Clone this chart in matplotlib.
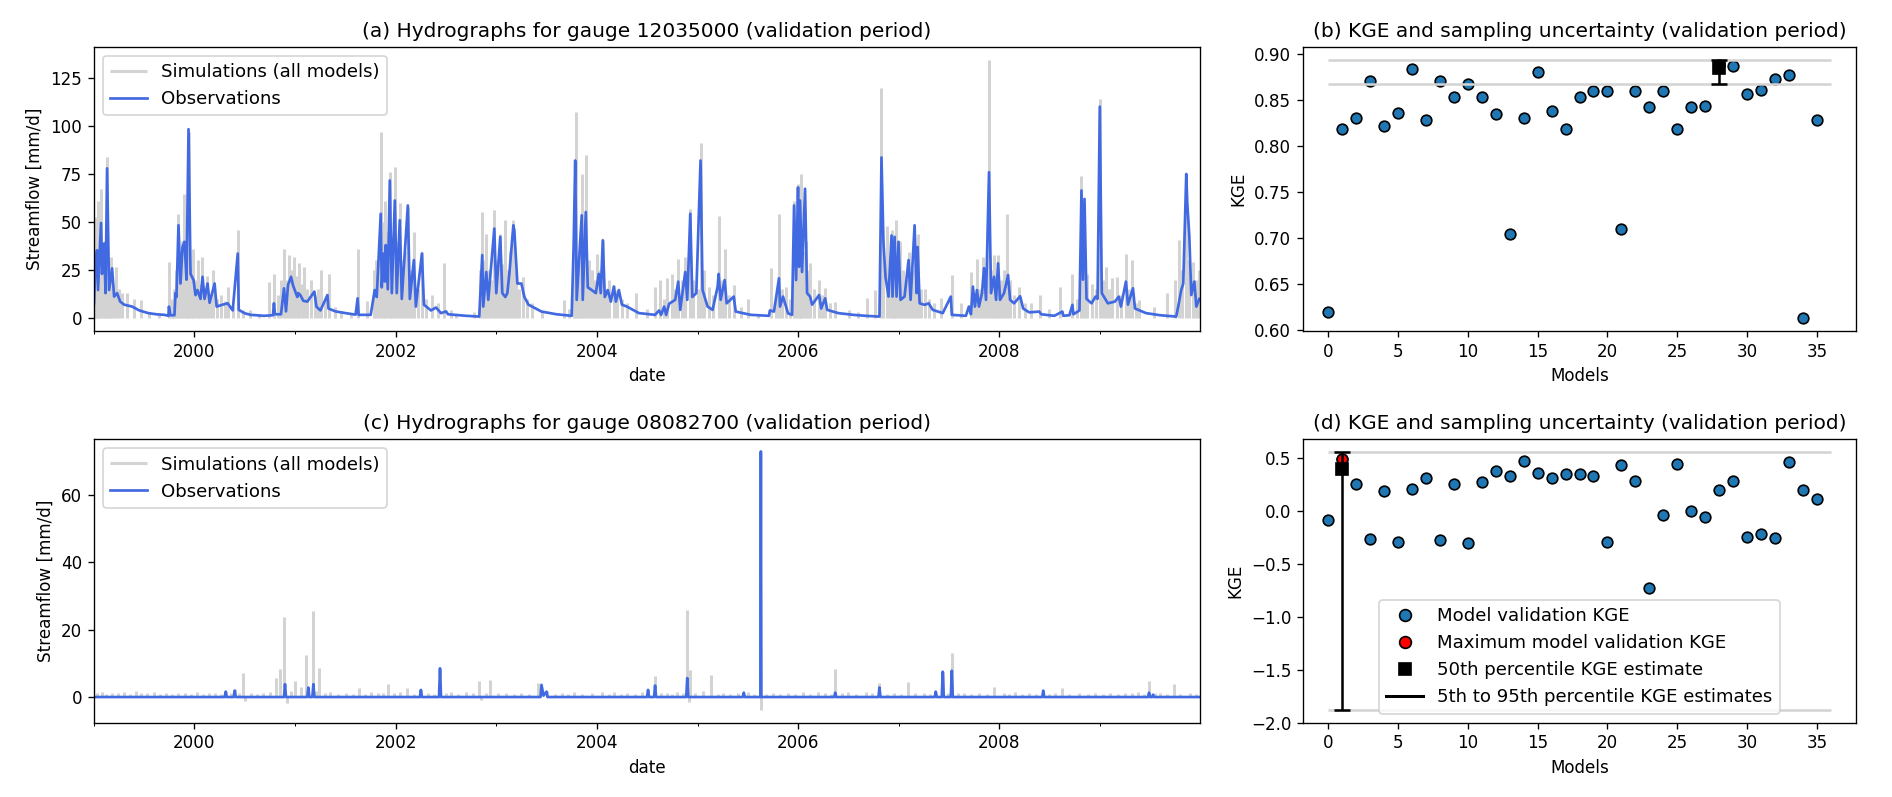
import numpy as np
import pandas as pd
import matplotlib
matplotlib.use("Agg")
import matplotlib.pyplot as plt
import matplotlib.dates as mdates
from matplotlib.lines import Line2D
from matplotlib.ticker import MultipleLocator

# ---------------- data ----------------
# gauge 12035000: observations, key points (decimal year, mm/d)
obs_a_t = [1999.00, 1999.01, 1999.03, 1999.04, 1999.07, 1999.08, 1999.10, 1999.115, 1999.13, 1999.15,
           1999.18, 1999.20, 1999.23, 1999.26, 1999.30, 1999.38, 1999.45, 1999.54, 1999.62, 1999.70,
           1999.74, 1999.745, 1999.76, 1999.80, 1999.81, 1999.82, 1999.84, 1999.86, 1999.88, 1999.90,
           1999.92, 1999.94, 1999.96, 1999.99, 2000.01, 2000.03, 2000.06, 2000.08, 2000.10, 2000.13,
           2000.15, 2000.20, 2000.22, 2000.28, 2000.33, 2000.38, 2000.43, 2000.44, 2000.50, 2000.56,
           2000.69, 2000.78, 2000.79, 2000.80, 2000.86, 2000.89, 2000.91, 2000.93, 2000.96, 2000.98,
           2001.00, 2001.02, 2001.03, 2001.05, 2001.08, 2001.12, 2001.19, 2001.21, 2001.25, 2001.32,
           2001.33, 2001.40, 2001.50, 2001.60, 2001.62, 2001.63, 2001.75, 2001.79, 2001.81, 2001.85,
           2001.86, 2001.88, 2001.89, 2001.90, 2001.92, 2001.94, 2001.96, 2001.99, 2002.01, 2002.04,
           2002.06, 2002.12, 2002.14, 2002.18, 2002.20, 2002.26, 2002.28, 2002.35, 2002.40, 2002.45,
           2002.50, 2002.52, 2002.70, 2002.83, 2002.86, 2002.87, 2002.90, 2002.92, 2002.98, 2003.00,
           2003.04, 2003.06, 2003.09, 2003.11, 2003.13, 2003.17, 2003.18, 2003.21, 2003.25, 2003.28,
           2003.32, 2003.45, 2003.60, 2003.75, 2003.77, 2003.785, 2003.80, 2003.85, 2003.86, 2003.89,
           2003.91, 2003.95, 2003.99, 2004.02, 2004.04, 2004.06, 2004.08, 2004.11, 2004.14, 2004.17,
           2004.19, 2004.22, 2004.25, 2004.30, 2004.42, 2004.58, 2004.62, 2004.64, 2004.67, 2004.69,
           2004.72, 2004.78, 2004.81, 2004.83, 2004.88, 2004.90, 2004.93, 2004.95, 2004.99, 2005.03,
           2005.05, 2005.10, 2005.15, 2005.20, 2005.21, 2005.23, 2005.27, 2005.29, 2005.36, 2005.38,
           2005.53, 2005.71, 2005.72, 2005.76, 2005.81, 2005.82, 2005.85, 2005.90, 2005.94, 2005.96,
           2005.98, 2006.00, 2006.01, 2006.02, 2006.04, 2006.07, 2006.09, 2006.12, 2006.14, 2006.21,
           2006.23, 2006.27, 2006.29, 2006.40, 2006.55, 2006.67, 2006.81, 2006.83, 2006.85, 2006.87,
           2006.90, 2006.93, 2006.94, 2006.96, 2006.98, 2007.00, 2007.02, 2007.06, 2007.10, 2007.12,
           2007.16, 2007.18, 2007.19, 2007.21, 2007.26, 2007.30, 2007.34, 2007.44, 2007.52, 2007.53,
           2007.67, 2007.70, 2007.72, 2007.74, 2007.76, 2007.78, 2007.80, 2007.83, 2007.85, 2007.87,
           2007.90, 2007.92, 2007.95, 2007.97, 2007.99, 2008.01, 2008.05, 2008.09, 2008.11, 2008.15,
           2008.21, 2008.24, 2008.30, 2008.40, 2008.42, 2008.55, 2008.63, 2008.64, 2008.70, 2008.73,
           2008.74, 2008.80, 2008.82, 2008.835, 2008.85, 2008.87, 2008.92, 2008.96, 2008.98, 2009.00,
           2009.02, 2009.08, 2009.15, 2009.19, 2009.21, 2009.26, 2009.28, 2009.33, 2009.35, 2009.46,
           2009.60, 2009.76, 2009.78, 2009.81, 2009.83, 2009.86, 2009.87, 2009.89, 2009.91, 2009.94,
           2009.96, 2009.99]
obs_a_q = [7.7, 21.5, 35.3, 14.6, 49.5, 23, 38.8, 13, 77.9, 14.6,
           25.9, 11.2, 13, 8.6, 7.0, 6.0, 4.0, 2.6, 2.0, 1.7,
           1.2, 6.0, 1.5, 1.5, 13, 11, 48.3, 18, 37, 39.7,
           20, 98.3, 23, 19.8, 12, 14.6, 10, 21.5, 10, 18,
           8, 18, 6, 7, 7.7, 4, 33.6, 4.3, 2.5, 1.7,
           1.2, 1.5, 7.7, 2, 2, 15.5, 3.5, 17.2, 21.5, 17,
           13.8, 11, 13, 12, 9, 8.6, 13.8, 6, 4, 12,
           5, 3.5, 2.6, 1.8, 10.3, 1.7, 1.7, 14.6, 11, 54.3,
           16, 33.6, 19, 38, 15, 71.6, 13, 61.2, 13, 50.9,
           10, 58.6, 10, 30.2, 6, 33.6, 7, 4, 5.5, 2.6,
           3.5, 2.0, 1.2, 0.8, 32.8, 6, 24, 9.5, 46.6, 13,
           42.3, 13, 11, 13, 23, 48.3, 45.7, 18, 18, 11,
           7, 3.4, 2, 1.2, 38.8, 82, 9.5, 53.5, 9.5, 55.2,
           16, 14.6, 13, 23, 13, 40.5, 11, 14.6, 8.6, 16.4,
           8.6, 14.6, 7, 6, 2.6, 1.7, 4, 1.7, 6, 1.7,
           7.5, 9.5, 19, 4.3, 24, 9.5, 54.3, 11, 13, 82,
           14.6, 6, 4.3, 16.4, 23, 9.5, 19.8, 7.7, 11.2, 3.4,
           1.7, 1.2, 4, 3.4, 20.7, 6, 11.2, 2.5, 1.7, 58.6,
           19.8, 68, 26.7, 61.2, 24, 67.3, 13, 11.2, 7, 12,
           5, 10.3, 4.3, 2.6, 1.7, 1.2, 0.8, 83.6, 38.8, 21.5,
           11.2, 43, 11.2, 42.3, 11.2, 39.7, 9.5, 11.2, 30.2, 9.5,
           48.3, 13, 37, 7.7, 6.9, 7.7, 4.3, 2.6, 11.2, 1.7,
           1.2, 6, 2, 16.4, 6, 14.6, 6, 13, 26, 9.5,
           75.9, 13, 21.5, 9.5, 28.5, 9.5, 13, 22.4, 9.5, 7.7,
           11.4, 5, 3, 3.4, 2, 1.2, 3.4, 1.2, 1.5, 6.9,
           2, 4, 66.4, 20, 62, 10, 7.7, 11.2, 10, 110,
           13, 7.7, 8.6, 11.2, 6, 19, 7, 15.5, 5, 2.6,
           1.5, 0.8, 6, 14.6, 18, 75, 60, 43, 12, 19,
           6, 10]

# gauge 12035000: simulated flow peaks of the model ensemble (decimal year, mm/d)
sim_a_t = [1999.005, 1999.02, 1999.035, 1999.05, 1999.07, 1999.09, 1999.105, 1999.125, 1999.14, 1999.155,
           1999.17, 1999.20, 1999.22, 1999.25, 1999.28, 1999.33, 1999.40, 1999.47, 1999.55, 1999.65,
           1999.745, 1999.78, 1999.80, 1999.82, 1999.84, 1999.86, 1999.875, 1999.89, 1999.91, 1999.925,
           1999.94, 1999.96, 1999.985, 2000.01, 2000.03, 2000.05, 2000.07, 2000.10, 2000.12, 2000.15,
           2000.18, 2000.22, 2000.26, 2000.30, 2000.33, 2000.38, 2000.43, 2000.48, 2000.55, 2000.64,
           2000.74, 2000.79, 2000.83, 2000.86, 2000.89, 2000.92, 2000.94, 2000.965, 2000.99, 2001.02,
           2001.04, 2001.07, 2001.09, 2001.12, 2001.16, 2001.20, 2001.23, 2001.26, 2001.30, 2001.34,
           2001.40, 2001.45, 2001.55, 2001.62, 2001.71, 2001.78, 2001.80, 2001.83, 2001.85, 2001.87,
           2001.89, 2001.91, 2001.94, 2001.96, 2001.99, 2002.02, 2002.04, 2002.06, 2002.09, 2002.12,
           2002.15, 2002.18, 2002.22, 2002.26, 2002.30, 2002.36, 2002.42, 2002.48, 2002.55, 2002.60,
           2002.78, 2002.84, 2002.86, 2002.88, 2002.90, 2002.93, 2002.95, 2002.98, 2003.01, 2003.04,
           2003.065, 2003.09, 2003.12, 2003.14, 2003.17, 2003.20, 2003.23, 2003.27, 2003.31, 2003.36,
           2003.45, 2003.67, 2003.72, 2003.77, 2003.79, 2003.81, 2003.83, 2003.85, 2003.87, 2003.89,
           2003.92, 2003.95, 2003.97, 2004.00, 2004.03, 2004.06, 2004.09, 2004.12, 2004.17, 2004.20,
           2004.25, 2004.30, 2004.39, 2004.50, 2004.58, 2004.63, 2004.67, 2004.70, 2004.75, 2004.78,
           2004.81, 2004.85, 2004.88, 2004.93, 2004.96, 2005.00, 2005.03, 2005.06, 2005.11, 2005.15,
           2005.21, 2005.24, 2005.27, 2005.31, 2005.36, 2005.43, 2005.50, 2005.60, 2005.73, 2005.78,
           2005.81, 2005.84, 2005.88, 2005.92, 2005.96, 2005.98, 2006.00, 2006.015, 2006.03, 2006.05,
           2006.08, 2006.10, 2006.12, 2006.16, 2006.21, 2006.24, 2006.27, 2006.32, 2006.37, 2006.51,
           2006.60, 2006.69, 2006.77, 2006.83, 2006.85, 2006.88, 2006.91, 2006.93, 2006.95, 2006.97,
           2006.99, 2007.01, 2007.04, 2007.07, 2007.10, 2007.13, 2007.16, 2007.19, 2007.22, 2007.26,
           2007.30, 2007.35, 2007.42, 2007.53, 2007.62, 2007.72, 2007.75, 2007.78, 2007.81, 2007.84,
           2007.87, 2007.90, 2007.93, 2007.95, 2007.97, 2007.99, 2008.02, 2008.05, 2008.08, 2008.11,
           2008.15, 2008.20, 2008.26, 2008.32, 2008.41, 2008.50, 2008.61, 2008.73, 2008.78, 2008.82,
           2008.845, 2008.87, 2008.92, 2008.96, 2009.00, 2009.03, 2009.06, 2009.09, 2009.12, 2009.17,
           2009.21, 2009.26, 2009.29, 2009.32, 2009.36, 2009.39, 2009.54, 2009.67, 2009.75, 2009.79,
           2009.82, 2009.86, 2009.89, 2009.93, 2009.96, 2009.99]
sim_a_q = [52.6, 30, 61, 45, 67.3, 35, 40, 83.6, 30, 22,
           32, 18, 26.7, 15, 13, 13, 10, 9.5, 3, 2,
           29.3, 10, 15, 25, 54.3, 30, 40, 64.7, 35, 30,
           97, 25, 36, 20, 30, 18, 32, 15, 22, 12,
           25, 10, 12, 9, 16.4, 6, 45.7, 4, 4, 2,
           19, 23, 12, 20, 36.2, 20, 32.8, 25, 32, 22,
           28.5, 18, 26.7, 15, 19.8, 12, 15, 25, 10, 23,
           6, 3, 2, 36.2, 9, 25, 30, 40, 96.6, 50,
           61, 45, 75.9, 40, 78.5, 40, 60, 30, 35, 58,
           25, 44.8, 15, 34.5, 10, 12, 8, 28.5, 4, 2,
           3, 25, 55.2, 30, 44, 25, 20, 56, 30, 44,
           28, 50.9, 25, 35, 51, 25, 15, 21.5, 10, 8,
           3, 9.5, 5, 45, 107, 30, 40, 75, 35, 85,
           30, 25, 20, 33.6, 25, 40.5, 15, 20, 17, 14.6,
           10, 8, 13, 5, 16.4, 19.8, 10, 20.7, 23, 15,
           31, 20, 32, 57, 20, 15, 91, 25, 16, 12,
           53, 20, 35.7, 12, 17, 6, 10, 2, 26, 12,
           54.3, 15, 16, 10, 61, 40, 70, 45, 75, 35,
           40, 25, 28.5, 15, 20, 12, 15.5, 8, 8.6, 4.3,
           3, 10.3, 14.6, 119.5, 40, 48, 30, 45.7, 30, 50.9,
           30, 40, 25, 20, 34.5, 25, 30, 44, 15, 15,
           10, 8, 10.3, 22.4, 7.7, 24, 12, 31, 15, 32,
           20, 134.5, 25, 33, 20, 33, 20, 25, 54.3, 20,
           12, 16.4, 8, 7.7, 12, 5, 16.4, 23, 10, 74,
           25, 23, 18, 15, 113.9, 20, 26.7, 15, 20.7, 21.5,
           12, 33.6, 15, 30, 8, 9.5, 6, 13, 20, 40.5,
           25, 75, 30, 29.3, 20, 25]

# gauge 08082700: observations, key points
obs_c_t = [1999.00, 2000.30, 2000.31, 2000.32, 2000.39, 2000.40, 2000.41, 2000.89, 2000.90, 2000.91,
           2001.12, 2001.13, 2001.14, 2001.17, 2001.18, 2001.19, 2002.24, 2002.25, 2002.26, 2002.43,
           2002.44, 2002.45, 2003.44, 2003.45, 2003.47, 2003.50, 2003.51, 2004.50, 2004.51, 2004.52,
           2004.57, 2004.58, 2004.59, 2004.89, 2004.90, 2004.91, 2005.45, 2005.46, 2005.47, 2005.625,
           2005.63, 2005.635, 2006.36, 2006.37, 2006.38, 2006.80, 2006.81, 2006.82, 2007.36, 2007.37,
           2007.38, 2007.43, 2007.44, 2007.45, 2007.52, 2007.53, 2007.54, 2008.43, 2008.44, 2008.45,
           2009.48, 2009.49, 2009.50, 2009.52, 2009.53, 2009.54, 2009.99]
obs_c_q = [0.1, 0.1, 1.7, 0.1, 0.1, 2.0, 0.1, 0.1, 3.9, 0.1,
           0.1, 2.9, 0.1, 0.1, 3.9, 0.1, 0.1, 2.2, 0.1, 0.1,
           8.6, 0.1, 0.1, 3.7, 0.5, 1.7, 0.1, 0.1, 2.2, 0.1,
           0.1, 3.5, 0.1, 0.1, 5.7, 0.1, 0.1, 1.4, 0.1, 0.1,
           72.8, 0.1, 0.1, 1.4, 0.1, 0.1, 2.9, 0.1, 0.1, 1.7,
           0.1, 0.1, 7.6, 0.1, 0.1, 7.9, 0.1, 0.1, 2.0, 0.1,
           0.1, 1.4, 0.1, 0.1, 0.8, 0.1, 0.1]

# gauge 08082700: simulated flow peaks / dips of the model ensemble
sim_c_t = [1999.03, 1999.08, 1999.12, 1999.18, 1999.24, 1999.30, 1999.36, 1999.42, 1999.47, 1999.53,
           1999.60, 1999.66, 1999.72, 1999.78, 1999.84, 1999.90, 1999.96, 2000.02, 2000.08, 2000.14,
           2000.20, 2000.26, 2000.31, 2000.36, 2000.40, 2000.44, 2000.48, 2000.50, 2000.56, 2000.62,
           2000.68, 2000.75, 2000.81, 2000.85, 2000.89, 2000.92, 2000.96, 2001.00, 2001.06, 2001.11,
           2001.13, 2001.18, 2001.21, 2001.24, 2001.30, 2001.35, 2001.42, 2001.50, 2001.57, 2001.63,
           2001.69, 2001.75, 2001.82, 2001.87, 2001.92, 2001.98, 2002.04, 2002.11, 2002.18, 2002.25,
           2002.32, 2002.38, 2002.44, 2002.50, 2002.55, 2002.62, 2002.70, 2002.77, 2002.83, 2002.85,
           2002.90, 2002.94, 2003.02, 2003.10, 2003.18, 2003.25, 2003.33, 2003.42, 2003.50, 2003.58,
           2003.65, 2003.71, 2003.77, 2003.85, 2003.95, 2004.05, 2004.12, 2004.17, 2004.24, 2004.30,
           2004.38, 2004.45, 2004.51, 2004.58, 2004.64, 2004.70, 2004.75, 2004.80, 2004.86, 2004.90,
           2004.92, 2004.93, 2004.98, 2005.05, 2005.13, 2005.20, 2005.25, 2005.32, 2005.40, 2005.46,
           2005.50, 2005.56, 2005.63, 2005.68, 2005.75, 2005.82, 2005.90, 2005.97, 2006.05, 2006.12,
           2006.20, 2006.27, 2006.33, 2006.37, 2006.44, 2006.50, 2006.58, 2006.68, 2006.74, 2006.81,
           2006.88, 2006.95, 2007.02, 2007.09, 2007.16, 2007.25, 2007.31, 2007.37, 2007.44, 2007.49,
           2007.53, 2007.59, 2007.65, 2007.72, 2007.80, 2007.88, 2007.95, 2008.05, 2008.10, 2008.16,
           2008.23, 2008.30, 2008.37, 2008.44, 2008.50, 2008.56, 2008.63, 2008.70, 2008.80, 2008.88,
           2008.95, 2009.03, 2009.10, 2009.18, 2009.25, 2009.32, 2009.38, 2009.44, 2009.49, 2009.55,
           2009.60, 2009.67, 2009.74, 2009.80, 2009.90, 2009.96]
sim_c_q = [1.3, 1.5, 1.0, 1.4, 1.2, 1.6, 1.0, 1.8, 1.2, 1.4,
           1.5, 1.1, 1.2, 1.0, 1.3, 1.4, 1.1, 1.5, 1.0, 1.2,
           1.3, 1.1, 2.0, 1.2, 2.5, 1.4, 7.1, -1.2, 1.2, 1.0,
           1.3, 1.5, 5.7, 8.3, 23.8, -1.7, 2.0, 4.7, 3.0, 12.5,
           3.0, 25.5, 2.0, 8.6, 1.4, 1.5, 1.1, 1.2, 1.0, 2.9,
           1.1, 1.5, 1.2, 1.3, 4.0, 1.2, 1.5, 2.9, 1.1, 2.2,
           1.3, 1.0, 8.0, 1.2, 1.5, 1.1, 1.5, 1.2, 4.9, -0.7,
           1.3, 5.0, 1.2, 1.4, 1.0, 1.2, 1.1, 4.4, 2.0, 1.1,
           1.2, 1.0, 1.7, 1.1, 1.3, 1.5, 1.0, 1.7, 1.1, 1.2,
           1.0, 1.5, 2.5, 6.2, 1.2, 1.4, 1.1, 1.6, 1.2, 25.8,
           -1.5, 8.0, 1.3, 2.0, 6.6, 1.1, 1.2, 1.0, 1.4, 1.1,
           1.5, 1.0, -3.6, 1.0, 1.4, 1.1, 1.3, 1.0, 1.6, 1.1,
           1.5, 1.2, 1.0, 8.3, 1.2, 1.6, 1.1, 1.7, 1.2, 4.4,
           1.1, 1.3, 1.0, 4.5, 1.2, 1.4, 1.1, 1.7, 7.6, 1.3,
           13.2, 1.2, 1.4, 1.0, 1.2, 1.1, 3.2, 1.2, 1.0, 1.5,
           1.1, 1.4, 1.0, 2.0, 1.1, 1.2, 2.7, 1.0, 1.2, 1.1,
           1.3, 1.0, 1.4, 1.1, 1.3, 1.2, 1.6, 1.1, 4.7, 1.2,
           1.2, 1.0, 3.9, 1.1, 1.2, 1.0]

# KGE per model, gauge 12035000 (panel b)
kge_b = [0.620, 0.819, 0.831, 0.871, 0.822, 0.836, 0.884, 0.828, 0.871, 0.853,
         0.868, 0.853, 0.835, 0.704, 0.831, 0.881, 0.838, 0.819, 0.853, 0.860,
         0.860, 0.710, 0.860, 0.842, 0.860, 0.819, 0.842, 0.844, 0.888, 0.887,
         0.857, 0.861, 0.873, 0.877, 0.613, 0.828]
kge_b_p5, kge_b_p50, kge_b_p95 = 0.868, 0.8845, 0.894

# KGE per model, gauge 08082700 (panel d)
kge_d = [-0.085, 0.493, 0.255, -0.270, 0.186, -0.290, 0.208, 0.308, -0.277, 0.258,
         -0.308, 0.270, 0.377, 0.327, 0.469, 0.361, 0.308, 0.352, 0.349, 0.327,
         -0.292, 0.431, 0.283, -0.733, -0.041, 0.447, -0.003, -0.060, 0.201, 0.283,
         -0.242, -0.214, -0.258, 0.459, 0.195, 0.113]
kge_d_p5, kge_d_p50, kge_d_p95 = -1.88, 0.40, 0.555

titles = ["(a) Hydrographs for gauge 12035000 (validation period)",
          "(b) KGE and sampling uncertainty (validation period)",
          "(c) Hydrographs for gauge 08082700 (validation period)",
          "(d) KGE and sampling uncertainty (validation period)"]


def to_dates(years):
    out = []
    for y in years:
        yi = int(np.floor(y))
        out.append(pd.Timestamp(yi, 1, 1) + pd.Timedelta(days=(y - yi) * 365.25))
    return pd.DatetimeIndex(out)


# ---------------- figure ----------------
DPI = 121
fig = plt.figure(figsize=(1892 / DPI, 797 / DPI), dpi=DPI)
W, H = 1892, 797
LEG_FS = 10.8


def box(l, t, r, b):
    return [l / W, 1 - b / H, (r - l) / W, (b - t) / H]


ax_a = fig.add_axes(box(94, 46.7, 1200, 331))
ax_b = fig.add_axes(box(1303, 46.7, 1856, 331))
ax_c = fig.add_axes(box(94, 439.3, 1200, 722.7))
ax_d = fig.add_axes(box(1303, 439.3, 1856, 722.7))

OBS_COL = "royalblue"
SIM_COL = "lightgray"


def hydro(ax, st, sq, ot, oq, title, ylim, ystep):
    ax.vlines(to_dates(st), 0, sq, color=SIM_COL, lw=1.8, label="Simulations (all models)")
    ax.plot(to_dates(ot), oq, color=OBS_COL, lw=1.6, label="Observations")
    ax.set_xlim(pd.Timestamp("1999-01-01"), pd.Timestamp("2009-12-31"))
    ax.set_ylim(*ylim)
    ax.yaxis.set_major_locator(MultipleLocator(ystep))
    ax.xaxis.set_major_locator(mdates.YearLocator(2))
    ax.xaxis.set_minor_locator(mdates.YearLocator(1))
    ax.xaxis.set_major_formatter(mdates.DateFormatter("%Y"))
    ax.set_xlabel("date")
    ax.set_ylabel("Streamflow [mm/d]")
    ax.set_title(title)
    ax.legend(loc="upper left", fontsize=LEG_FS)


hydro(ax_a, sim_a_t, sim_a_q, obs_a_t, obs_a_q, titles[0], (-6.7, 141.2), 25)
hydro(ax_c, sim_c_t, sim_c_q, obs_c_t, obs_c_q, titles[2], (-7.5, 76.4), 20)


def kge_panel(ax, kge, p5, p50, p95, title, legend=False):
    models = np.arange(len(kge))
    kge = np.asarray(kge)
    imax = int(np.argmax(kge))
    ax.scatter(models, kge, s=40, color="#1f77b4", edgecolor="black", linewidth=1, zorder=1)
    ax.hlines([p5, p95], 0, len(kge), color=SIM_COL, lw=1.5, zorder=2)
    ax.scatter([imax], [kge[imax]], s=40, color="red", edgecolor="black", linewidth=1, zorder=3)
    ax.errorbar([imax], [p50], yerr=[[p50 - p5], [p95 - p50]], fmt="s", color="black",
                ms=7, capsize=5, elinewidth=1.5, capthick=1.5, zorder=4)
    ax.set_xlabel("Models")
    ax.set_ylabel("KGE")
    ax.set_title(title)
    ax.set_xticks(np.arange(0, 36, 5))
    if legend:
        handles = [
            Line2D([], [], ls="none", marker="o", ms=7, mfc="#1f77b4", mec="black"),
            Line2D([], [], ls="none", marker="o", ms=7, mfc="red", mec="black"),
            Line2D([], [], ls="none", marker="s", ms=7, mfc="black", mec="black"),
            Line2D([], [], color="black", lw=1.8),
        ]
        labels = ["Model validation KGE", "Maximum model validation KGE",
                  "50th percentile KGE estimate", "5th to 95th percentile KGE estimates"]
        ax.legend(handles, labels, loc="lower center", fontsize=LEG_FS)


kge_panel(ax_b, kge_b, kge_b_p5, kge_b_p50, kge_b_p95, titles[1])
kge_panel(ax_d, kge_d, kge_d_p5, kge_d_p50, kge_d_p95, titles[3], legend=True)

fig.savefig("out.png", dpi=DPI)
